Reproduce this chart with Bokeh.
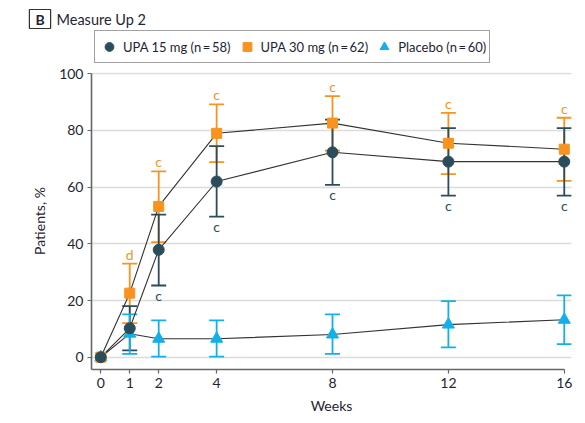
from bokeh.plotting import figure
from bokeh.models import (ColumnDataSource, Whisker, TeeHead, Legend, LegendItem,
                          Label, FixedTicker, Range1d)
from bokeh.layouts import column
from bokeh.core.properties import value
from bokeh.embed import file_html
from bokeh.resources import INLINE

FONT = "Lato"

weeks = [0, 1, 2, 4, 8, 12, 16]
xticks = [0, 1, 2, 4, 8, 12, 16]
yticks = [0, 20, 40, 60, 80, 100]

upa15 = [0, 10.2, 37.9, 62.0, 72.3, 69.0, 69.0]
upa15_lo = [0, 2.4, 25.3, 49.6, 60.8, 57.0, 57.0]
upa15_hi = [0, 18.0, 50.3, 74.5, 83.8, 80.8, 80.8]
upa15_sig = ["", "", "c", "c", "c", "c", "c"]

upa30 = [0, 22.6, 53.2, 79.0, 82.6, 75.5, 73.4]
upa30_lo = [0, 12.0, 40.6, 68.8, 72.9, 64.6, 62.2]
upa30_hi = [0, 33.0, 65.6, 89.2, 92.1, 86.2, 84.5]
upa30_sig = ["", "d", "c", "c", "c", "c", "c"]

placebo = [0, 8.3, 6.5, 6.5, 8.0, 11.5, 13.2]
placebo_lo = [0, 1.2, 0.2, 0.2, 1.2, 3.5, 4.6]
placebo_hi = [0, 15.1, 13.0, 13.0, 15.1, 19.8, 21.8]

labels = ["UPA 15 mg (n\u2009=\u200958)", "UPA 30 mg (n\u2009=\u200962)", "Placebo (n\u2009=\u200960)"]
panel_letter = "B"
panel_title = "Measure Up 2"

C15 = "#2b4d5b"
C30 = "#f7931e"
CPL = "#12b0e8"
TXT = "#1f2433"
AX = "#666666"
NAN = float("nan")

# ---------- header (panel title + legend) ----------
hdr = figure(width=585, height=64, output_backend="svg", toolbar_location=None,
             x_range=Range1d(0, 585), y_range=Range1d(64, 0), min_border=0,
             frame_align=False)
hdr.axis.visible = False
hdr.grid.visible = False
hdr.outline_line_color = None

h15 = hdr.scatter([NAN], [NAN], marker="circle", fill_color=C15, line_color=C15)
h30 = hdr.scatter([NAN], [NAN], marker="square", fill_color=C30, line_color=C30)
hpl = hdr.scatter([NAN], [NAN], marker="triangle", fill_color=CPL, line_color=CPL)

legend = Legend(items=[LegendItem(label=labels[0], renderers=[h15]),
                       LegendItem(label=labels[1], renderers=[h30]),
                       LegendItem(label=labels[2], renderers=[hpl])],
                orientation="horizontal", location=(94, 1),
                label_text_font=FONT, label_text_font_size="13px", label_text_color=TXT,
                border_line_color="#444444", border_line_width=1.2,
                background_fill_alpha=1.0, padding=3, margin=0,
                glyph_width=22, glyph_height=25, label_standoff=3, spacing=5)
hdr.add_layout(legend)

hdr.add_layout(Label(x=39.5, y=18.5, text=panel_letter,
                     text_font=FONT, text_font_size="14px", text_font_style="bold",
                     text_color=TXT, text_align="center", text_baseline="middle",
                     border_line_color="#333333", border_line_width=1.2, padding=(6, 1)))
hdr.add_layout(Label(x=56, y=18.5, text=panel_title,
                     text_font=FONT, text_font_size="14.5px", text_color=TXT,
                     text_align="left", text_baseline="middle"))

# ---------- main plot ----------
p = figure(width=585, height=359, output_backend="svg", toolbar_location=None,
           x_range=(-0.32, 16.25), y_range=(-4.34, 100.46), frame_align=False,
           min_border_left=91, min_border_right=14, min_border_top=8, min_border_bottom=54)
p.outline_line_color = None
p.xgrid.grid_line_color = None
p.ygrid.grid_line_color = "#dcdcdc"
p.ygrid.grid_line_width = 1.5
p.ygrid.ticker = FixedTicker(ticks=yticks)

for ax in (p.xaxis[0], p.yaxis[0]):
    ax.axis_line_color = AX
    ax.axis_line_width = 1.6
    ax.major_tick_line_color = AX
    ax.major_tick_line_width = 1.2
    ax.major_tick_out = 4
    ax.major_tick_in = 0
    ax.minor_tick_out = 0
    ax.minor_tick_in = 0
    ax.major_label_text_font = FONT
    ax.major_label_text_font_size = "14px"
    ax.major_label_text_color = TXT
    ax.axis_label_text_font = FONT
    ax.axis_label_text_font_size = "14px"
    ax.axis_label_text_font_style = "normal"
    ax.axis_label_text_color = TXT

p.xaxis.ticker = FixedTicker(ticks=xticks)
p.yaxis.ticker = FixedTicker(ticks=yticks)
p.xaxis.bounds = (-0.32, 16)
p.yaxis.bounds = (-4.34, 100)
p.xaxis.axis_label = "Weeks"
p.yaxis.axis_label = "Patients, %"
p.xaxis.major_label_standoff = 4
p.xaxis.axis_label_standoff = 6
p.yaxis.major_label_standoff = 4
p.yaxis.axis_label_standoff = 8

for ys in (placebo, upa30, upa15):
    p.line(weeks, ys, line_color="#333333", line_width=1.1)

def add_whisker(lo, hi, color):
    src = ColumnDataSource(dict(x=weeks[1:], lo=lo[1:], hi=hi[1:]))
    w = Whisker(base="x", lower="lo", upper="hi", source=src, dimension="height",
                line_color=color, line_width=1.8, level="underlay",
                upper_head=TeeHead(size=15, line_color=color, line_width=1.8),
                lower_head=TeeHead(size=15, line_color=color, line_width=1.8))
    p.add_layout(w)

add_whisker(upa30_lo, upa30_hi, C30)
add_whisker(upa15_lo, upa15_hi, C15)
add_whisker(placebo_lo, placebo_hi, CPL)

p.scatter(weeks, placebo, marker="triangle", size=12, fill_color=CPL, line_color=CPL)
p.scatter(weeks, upa30, marker="square", size=10, fill_color=C30, line_color=C30)
p.scatter(weeks, upa15, marker="circle", size=11, fill_color=C15, line_color=C15)

s30 = [(w, h, s) for w, h, s in zip(weeks, upa30_hi, upa30_sig) if s]
s15 = [(w, l, s) for w, l, s in zip(weeks, upa15_lo, upa15_sig) if s]
p.text([a[0] for a in s30], [a[1] for a in s30], text=[a[2] for a in s30],
       text_font=value(FONT), text_font_size="14px", text_color=C30,
       text_align="center", text_baseline="bottom", y_offset=-1)
p.text([a[0] for a in s15], [a[1] for a in s15], text=[a[2] for a in s15],
       text_font=value(FONT), text_font_size="14px", text_color=C15,
       text_align="center", text_baseline="top", y_offset=1)

layout = column(hdr, p, spacing=0)
open("out.html", "w").write(file_html(layout, INLINE))
